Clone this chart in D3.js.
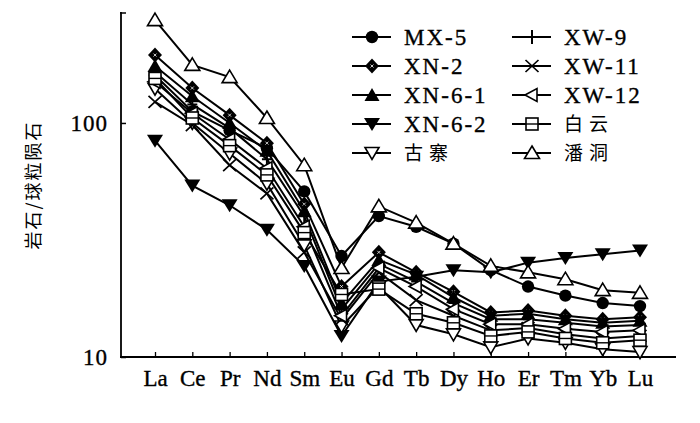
<!DOCTYPE html>
<html><head><meta charset="utf-8">
<script src="https://cdn.jsdelivr.net/npm/d3@7"></script>
</head>
<body style="margin:0;background:#fff">
<svg id="chart" width="700" height="423" style="display:block"></svg>
<script>
const elements = ["La","Ce","Pr","Nd","Sm","Eu","Gd","Tb","Dy","Ho","Er","Tm","Yb","Lu"];
const yTicks = [10, 100];
const yTitle = "岩石/球粒陨石";

const MX5    = [160,112, 93, 78, 51, 27,  40, 36,  30.5,23.5,20,  18.3,17,  16.5];
const XN2    = [195,141,108, 82, 45, 20,  28, 23,  19,  15.5,15.8,15,  14.5,14.8];
const XN61   = [175,130,100, 76, 42, 17,  26, 22.5,18,  15,  15.3,14.5,14,  14.3];
const XN62   = [ 84, 54, 44.5,35,24.5,12.3,21, 22,  23.5,23,  25.3,26.5,27.5,28.5];
const Guzhai = [140,100, 74, 55, 30, 13.5,20, 13.7,12.5,11,  12,  11.5,10.8,10.5];
const XW9    = [165,120, 95, 70, 40, 16,  25, 21,  17,  14.5,14.5,14,  13.5,13.7];
const XW11   = [123, 98, 66, 50, 28, 14.5,23, 17.5,15,  13,  13.3,12.5,12,  12.3];
const XW12   = [150,110, 85, 64, 36, 15,  24, 20,  16,  13.8,13.8,13.2,12.8,13];
const Baiyun = [155,105, 80, 60, 34, 18.5,19.5,15.3,14, 12.3,12.8,12,  11.5,11.8];
const Pandong= [275,177,157,105, 66, 24,  44, 37.5,30.5,24.5,23,  21.5,19.3,18.8];

const seriesNames = ["MX-5","XN-2","XN-6-1","XN-6-2","古寨","XW-9","XW-11","XW-12","白云","潘洞"];
const seriesValues = [MX5, XN2, XN61, XN62, Guzhai, XW9, XW11, XW12, Baiyun, Pandong];
const seriesMarkers = ["circle","diamond","triUpFilled","triDownFilled","triDownOpen","plus","cross","triLeftOpen","square","triUpOpen"];

const SERIF = '"Liberation Serif"';
const CJK = '"Noto Sans CJK SC"';

const svg = d3.select("#chart");
const x = d3.scalePoint().domain(elements).range([155, 640]);
const y = d3.scaleLog().domain([10, 295]).range([357, 13]);

// axes
const ax = svg.append("g");
ax.append("line").attr("x1",121).attr("x2",121).attr("y1",12).attr("y2",358)
  .attr("stroke","#000").attr("stroke-width",1.8);
ax.append("line").attr("x1",120).attr("x2",126).attr("y1",13).attr("y2",13)
  .attr("stroke","#000").attr("stroke-width",1.5);
ax.append("line").attr("x1",120).attr("x2",676).attr("y1",357).attr("y2",357)
  .attr("stroke","#000").attr("stroke-width",1.8);

const yAxis = svg.append("g").attr("transform","translate(121,0)")
  .call(d3.axisLeft(y).tickValues(yTicks).tickSize(-5).tickPadding(13).tickFormat(d3.format("d")));
yAxis.select(".domain").remove();
yAxis.selectAll(".tick line").attr("stroke-width",1.5);
yAxis.selectAll("text").style("font-family",SERIF).style("font-size","23px")
  .style("letter-spacing","1px").attr("fill","#000").attr("stroke","#000").attr("stroke-width",0.35);

const xAxis = svg.append("g").attr("transform","translate(0,357)")
  .call(d3.axisBottom(x).tickSize(-5).tickPadding(12));
xAxis.select(".domain").remove();
xAxis.selectAll(".tick line").attr("stroke-width",1.3);
xAxis.selectAll("text").style("font-family",SERIF).style("font-size","23px")
  .attr("fill","#000").attr("dy","0.72em").attr("stroke","#000").attr("stroke-width",0.35);

svg.append("text").attr("transform","translate(40,185) rotate(-90)")
  .attr("text-anchor","middle").style("font-family",CJK).style("font-size","18px")
  .style("letter-spacing","2px").text(yTitle);

// marker drawing
function drawMarker(g, type, cx, cy){
  switch(type){
    case "circle":
      g.append("circle").attr("cx",cx).attr("cy",cy).attr("r",6.2).attr("fill","#000"); break;
    case "diamond":
      g.append("path").attr("d",`M${cx},${cy-7.5}L${cx+7},${cy}L${cx},${cy+7.5}L${cx-7},${cy}Z`).attr("fill","#000");
      g.append("path").attr("d",`M${cx-1.5},${cy-1.5}L${cx+1.5},${cy+1.5}M${cx+1.5},${cy-1.5}L${cx-1.5},${cy+1.5}`).attr("stroke","#fff").attr("stroke-width",0.8);
      break;
    case "triUpFilled":
      g.append("path").attr("d",`M${cx},${cy-7}L${cx+7.5},${cy+6}L${cx-7.5},${cy+6}Z`).attr("fill","#000"); break;
    case "triDownFilled":
      g.append("path").attr("d",`M${cx-8},${cy-6}L${cx+8},${cy-6}L${cx},${cy+7}Z`).attr("fill","#000"); break;
    case "triDownOpen":
      g.append("path").attr("d",`M${cx-7},${cy-5.5}L${cx+7},${cy-5.5}L${cx},${cy+6.5}Z`).attr("fill","#fff").attr("stroke","#000").attr("stroke-width",1.6); break;
    case "triUpOpen":
      g.append("path").attr("d",`M${cx},${cy-7}L${cx+7.5},${cy+5.5}L${cx-7.5},${cy+5.5}Z`).attr("fill","#fff").attr("stroke","#000").attr("stroke-width",1.6); break;
    case "triLeftOpen":
      g.append("path").attr("d",`M${cx-7},${cy}L${cx+5},${cy-6.5}L${cx+5},${cy+6.5}Z`).attr("fill","#fff").attr("stroke","#000").attr("stroke-width",1.6); break;
    case "square":
      g.append("rect").attr("x",cx-6).attr("y",cy-6).attr("width",12).attr("height",12).attr("fill","#fff").attr("stroke","#000").attr("stroke-width",1.6);
      g.append("line").attr("x1",cx-6).attr("x2",cx+6).attr("y1",cy).attr("y2",cy).attr("stroke","#000").attr("stroke-width",1.4);
      break;
    case "plus":
      g.append("path").attr("d",`M${cx},${cy-7}V${cy+7}M${cx-5},${cy}H${cx+5}`).attr("stroke","#000").attr("stroke-width",2); break;
    case "cross":
      g.append("path").attr("d",`M${cx-6.5},${cy-6}L${cx+6.5},${cy+6}M${cx+6.5},${cy-6}L${cx-6.5},${cy+6}`).attr("stroke","#000").attr("stroke-width",1.7); break;
  }
}

const line = d3.line().x((d,i)=>x(elements[i])).y(d=>y(d));
const lines = svg.append("g");
seriesValues.forEach(vals=>{
  lines.append("path").datum(vals).attr("d",line).attr("fill","none")
    .attr("stroke","#000").attr("stroke-width",2);
});
const marks = svg.append("g");
seriesValues.forEach((vals,k)=>{
  vals.forEach((v,i)=>drawMarker(marks, seriesMarkers[k], x(elements[i]), y(v)));
});

// legend
const leg = svg.append("g");
const rowY = [37, 66, 95, 124, 153];
seriesNames.forEach((name,k)=>{
  const col = k < 5 ? 0 : 1;
  const r = k % 5;
  const lx = col === 0 ? 352 : 512;
  const cy = rowY[r];
  leg.append("line").attr("x1",lx).attr("x2",lx+39).attr("y1",cy).attr("y2",cy)
    .attr("stroke","#000").attr("stroke-width",1.8);
  drawMarker(leg, seriesMarkers[k], lx+20, cy);
  const isCJK = /[\u4e00-\u9fff]/.test(name);
  const t = leg.append("text")
    .attr("x", lx+52).attr("y", cy).attr("dy","0.36em")
    .style("font-family", isCJK ? CJK : SERIF)
    .style("font-size", isCJK ? "19px" : "23px")
    .style("letter-spacing", isCJK ? "6px" : "2px")
    .text(name);
  if(!isCJK) t.attr("stroke","#000").attr("stroke-width",0.35);
});
</script>
</body></html>
